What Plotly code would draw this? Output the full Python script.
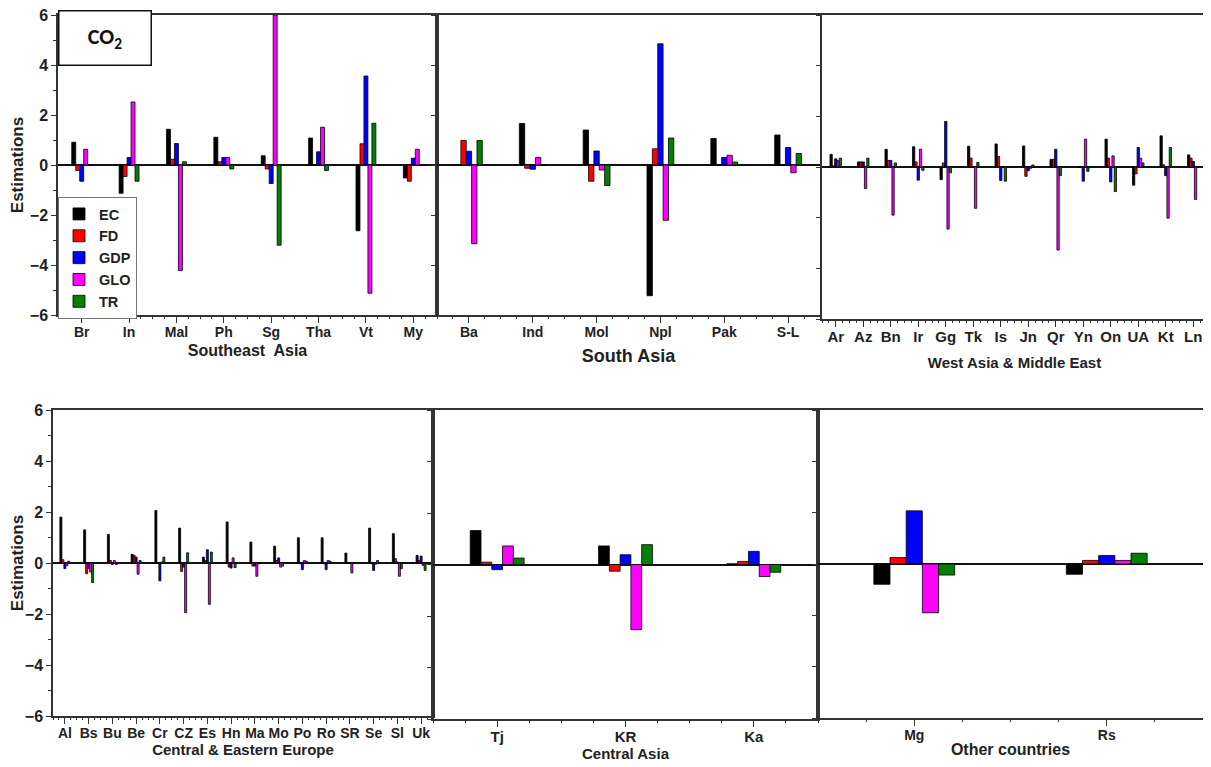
import plotly.graph_objects as go

# ---------------- data ----------------
series_names = ["EC", "FD", "GDP", "GLO", "TR"]
series_colors = ["#000000", "#FF0000", "#0000FF", "#FF00FF", "#008000"]
y_ticks = [-6, -4, -2, 0, 2, 4, 6]

# Southeast Asia
sea_cats = ["Br", "In", "Mal", "Ph", "Sg", "Tha", "Vt", "My"]
sea_EC = [0.91, -1.13, 1.43, 1.11, 0.37, 1.08, -2.63, -0.52]
sea_FD = [-0.22, -0.46, 0.23, 0.13, -0.16, 0.00, 0.85, -0.65]
sea_GDP = [-0.65, 0.30, 0.86, 0.30, -0.74, 0.53, 3.56, 0.27]
sea_GLO = [0.63, 2.52, -4.22, 0.30, 6.00, 1.51, -5.13, 0.63]
sea_TR = [0.00, -0.65, 0.13, -0.16, -3.21, -0.22, 1.67, 0.00]

# South Asia
sa_cats = ["Ba", "Ind", "Mol", "Npl", "Pak", "S-L"]
sa_EC = [0.02, 1.66, 1.40, -5.23, 1.06, 1.20]
sa_FD = [0.98, -0.13, -0.65, 0.65, 0.02, 0.00]
sa_GDP = [0.55, -0.17, 0.56, 4.85, 0.30, 0.70]
sa_GLO = [-3.15, 0.30, -0.20, -2.21, 0.39, -0.31]
sa_TR = [0.98, 0.00, -0.82, 1.08, 0.12, 0.46]

# West Asia & Middle East
wa_cats = ["Ar", "Az", "Bn", "Ir", "Gg", "Tk", "Is", "Jn", "Qr", "Yn", "On", "UA", "Kt", "Ln"]
wa_EC = [0.50, 0.20, 0.70, 0.80, -0.50, 0.82, 0.91, 0.83, 0.30, 0.02, 1.10, -0.72, 1.23, 0.48]
wa_FD = [0.05, 0.20, 0.26, 0.20, 0.16, 0.35, 0.42, -0.37, 0.30, 0.00, 0.35, -0.27, 0.09, 0.35]
wa_GDP = [0.32, 0.20, 0.26, -0.52, 1.80, 0.00, -0.53, -0.15, 0.70, -0.56, -0.59, 0.77, -0.34, 0.22]
wa_GLO = [0.25, -0.85, -1.90, 0.70, -2.45, -1.63, 0.00, -0.05, -3.28, 1.10, 0.44, 0.35, -2.02, -1.28]
wa_TR = [0.35, 0.35, 0.16, -0.13, -0.23, 0.18, -0.56, 0.08, -0.34, -0.17, -0.97, 0.16, 0.77, 0.00]

# Central & Eastern Europe
ce_cats = ["Al", "Bs", "Bu", "Be", "Cr", "CZ", "Es", "Hn", "Ma", "Mo", "Po", "Ro", "SR", "Se", "Sl", "Uk"]
ce_EC = [1.80, 1.30, 1.12, 0.34, 2.06, 1.37, 0.23, 1.61, 0.82, 0.66, 0.99, 0.99, 0.39, 1.37, 1.15, 0.30]
ce_FD = [0.13, -0.42, 0.10, 0.30, 0.00, -0.33, 0.10, -0.16, -0.12, 0.10, -0.03, -0.03, 0.00, -0.03, 0.17, 0.10]
ce_GDP = [-0.22, -0.22, -0.06, 0.23, -0.70, -0.16, 0.52, -0.20, -0.12, 0.20, -0.26, -0.26, 0.00, -0.29, 0.04, 0.27]
ce_GLO = [-0.10, -0.35, 0.10, -0.44, 0.04, -1.95, -1.62, 0.20, -0.52, -0.16, 0.10, 0.10, -0.39, -0.05, -0.52, -0.09]
ce_TR = [0.07, -0.77, -0.06, 0.10, 0.23, 0.40, 0.43, -0.18, -0.03, -0.12, 0.07, 0.07, 0.00, 0.10, -0.22, -0.29]

# Central Asia
ca_cats = ["Tj", "KR", "Ka"]
ca_EC = [1.32, 0.72, 0.03]
ca_FD = [0.09, -0.26, 0.12]
ca_GDP = [-0.20, 0.38, 0.51]
ca_GLO = [0.72, -2.53, -0.47]
ca_TR = [0.25, 0.77, -0.30]

# Other countries
oc_cats = ["Mg", "Rs"]
oc_EC = [-0.79, -0.40]
oc_FD = [0.25, 0.14]
oc_GDP = [2.07, 0.33]
oc_GLO = [-1.90, 0.14]
oc_TR = [-0.43, 0.42]

# ---------------- layout helpers ----------------
# the page body adds an 8px offset, so the figure is 8px smaller on each side
OFF = 8
W, H = 1211 - OFF, 767 - OFF
FONT = "Arial, Liberation Sans, sans-serif"


def fx(p):
    return (p - OFF) / W


def fy(p):
    return 1 - (p - OFF) / H


panels = [
    dict(cats=sea_cats, vals=[sea_EC, sea_FD, sea_GDP, sea_GLO, sea_TR], title="Southeast  Asia",
         box=(58, 437, 15, 315), left=True, tsize=16, tfs=14, so=6),
    dict(cats=sa_cats, vals=[sa_EC, sa_FD, sa_GDP, sa_GLO, sa_TR], title="South Asia",
         box=(437, 820, 15, 315), left=False, tsize=18, tfs=14, so=11),
    dict(cats=wa_cats, vals=[wa_EC, wa_FD, wa_GDP, wa_GLO, wa_TR], title="West Asia & Middle East",
         box=(822, 1207, 15, 319), left=False, tsize=15, tfs=15, so=14),
    dict(cats=ce_cats, vals=[ce_EC, ce_FD, ce_GDP, ce_GLO, ce_TR], title="Central & Eastern Europe",
         box=(53, 433, 410, 716), left=True, tsize=15, tfs=14, so=3),
    dict(cats=ca_cats, vals=[ca_EC, ca_FD, ca_GDP, ca_GLO, ca_TR], title="Central Asia",
         box=(433, 818, 410, 719), left=False, tsize=15, tfs=15, so=0),
    dict(cats=oc_cats, vals=[oc_EC, oc_FD, oc_GDP, oc_GLO, oc_TR], title="Other countries",
         box=(818, 1203, 410, 718), left=False, tsize=16, tfs=14, so=2),
]

fig = go.Figure()
layout_axes = {}
NP = len(panels)
for i, p in enumerate(panels):
    n = i + 1
    xname = "x" if n == 1 else f"x{n}"
    yname = "y" if n == 1 else f"y{n}"
    for s, (name, color) in enumerate(zip(series_names, series_colors)):
        fig.add_trace(go.Bar(
            x=p["cats"], y=p["vals"][s], name=name,
            marker=dict(color=color, line=dict(color="#000000", width=0.8)),
            xaxis=xname, yaxis=yname, showlegend=(n == 1), legendgroup=name,
        ))
    # empty helper trace so the tick-only companion axis is drawn
    fig.add_trace(go.Scatter(x=[], y=[], mode="markers", showlegend=False, hoverinfo="skip",
                             xaxis=f"x{n + NP}", yaxis=yname))
    x0, x1, y0, y1 = p["box"]
    ncat = len(p["cats"])
    layout_axes["xaxis" if n == 1 else f"xaxis{n}"] = dict(
        domain=[fx(x0), fx(x1)], anchor=yname, type="category",
        range=[-0.5, ncat - 0.5], showline=True, linecolor="#333333", linewidth=1.5,
        mirror=True, ticks="outside", ticklen=6, tickcolor="#333333", tickwidth=1.2,
        ticklabelstandoff=-3,
        showgrid=False, zeroline=False, automargin=False,
        tickfont=dict(family=FONT, size=p["tfs"], color="#222222", weight="bold"),
        title=dict(text=p["title"], standoff=p["so"],
                   font=dict(family=FONT, size=p["tsize"], color="#222222", weight="bold")),
    )
    # companion axis carrying the small quarter-category tick marks
    layout_axes[f"xaxis{n + NP}"] = dict(
        domain=[fx(x0), fx(x1)], anchor=yname, overlaying=xname, side="bottom", type="linear",
        range=[-0.5, ncat - 0.5], tickmode="linear", tick0=-0.5, dtick=0.25,
        ticks="outside", ticklen=3, tickcolor="#333333", tickwidth=1,
        showticklabels=False, showline=False, showgrid=False, zeroline=False,
        automargin=False, fixedrange=True,
    )
    ydict = dict(
        domain=[fy(y1), fy(y0)], anchor=xname, range=[-6, 6],
        tickvals=y_ticks, showline=True, linecolor="#333333", linewidth=1.5, mirror=True,
        ticks="outside", ticklen=5 if p["left"] else 4, tickcolor="#333333", tickwidth=1.2,
        showticklabels=p["left"], showgrid=False, automargin=False,
        ticklabeloverflow="allow",
        zeroline=True, zerolinecolor="#111111", zerolinewidth=1.5,
        tickfont=dict(family=FONT, size=16, color="#222222", weight="bold"),
    )
    if p["left"]:
        ydict["minor"] = dict(ticks="outside", ticklen=3, dtick=1, tickcolor="#333333")
        ydict["title"] = dict(text="Estimations", standoff=6,
                              font=dict(family=FONT, size=17, color="#222222", weight="bold"))
    layout_axes["yaxis" if n == 1 else f"yaxis{n}"] = ydict

fig.update_layout(
    width=W, height=H, margin=dict(l=0, r=0, t=0, b=0, autoexpand=False),
    paper_bgcolor="white", plot_bgcolor="white",
    barmode="group", bargap=0.58, bargroupgap=0.0,
    legend=dict(x=fx(58), y=fy(197), xanchor="left", yanchor="top",
                bgcolor="white", bordercolor="#777777", borderwidth=1,
                font=dict(family=FONT, size=14.5, color="#222222", weight="bold"),
                tracegroupgap=0, itemwidth=30),
    annotations=[dict(
        text="<b>CO<sub>2</sub></b>", xref="paper", yref="paper",
        x=fx(58), y=fy(10), xanchor="left", yanchor="top", showarrow=False,
        width=91, height=53, bordercolor="#111111", borderwidth=1.5, borderpad=0,
        bgcolor="white", font=dict(family="Carlito, Calibri, " + FONT, size=22, color="#111111"),
        align="center", valign="middle",
    )],
    **layout_axes,
)

fig.write_html("out.html")
